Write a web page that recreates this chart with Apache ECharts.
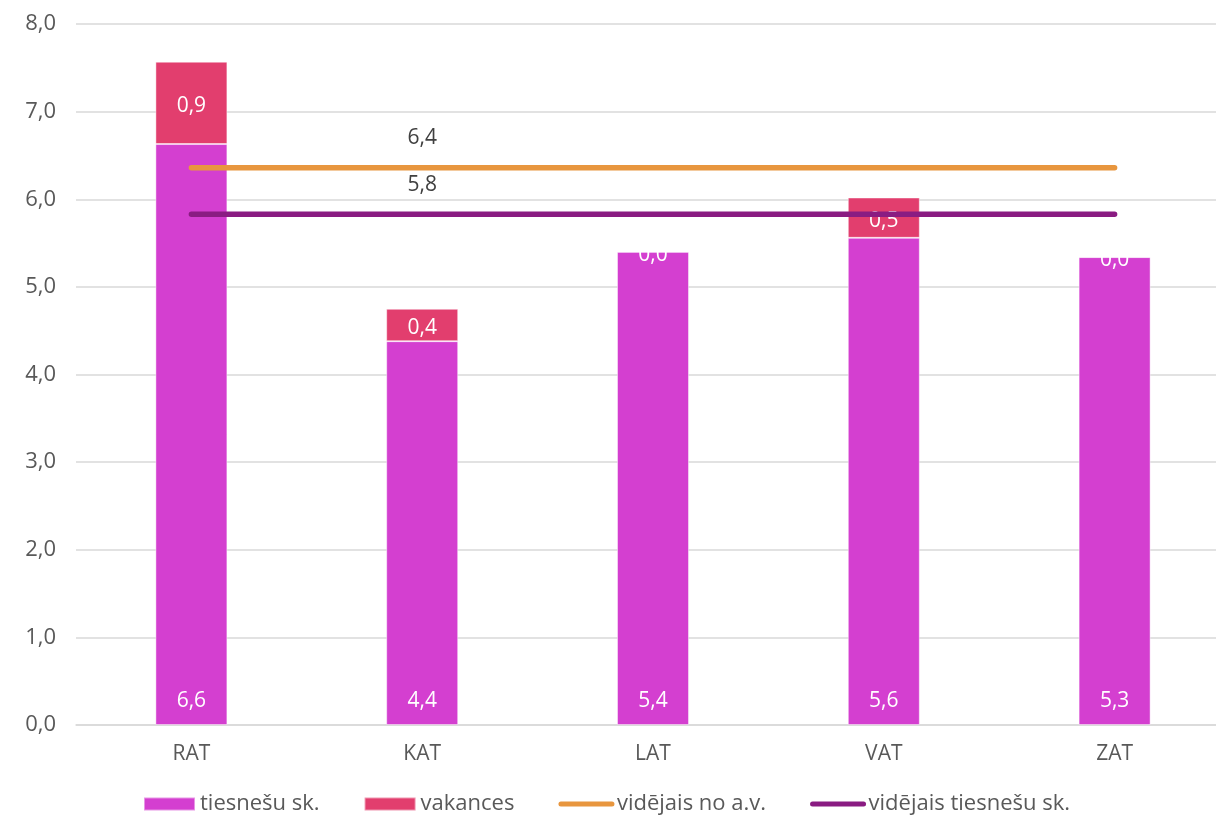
<!DOCTYPE html>
<html>
<head>
<meta charset="utf-8">
<script src="https://cdn.jsdelivr.net/npm/echarts@6/dist/echarts.min.js"></script>
<style>html,body{margin:0;padding:0;background:#fff;overflow:hidden;width:1216px;height:822px}#c{width:1230px;height:822px}</style>
</head>
<body>
<div id="c"></div>
<script>
var categories = ['RAT', 'KAT', 'LAT', 'VAT', 'ZAT'];
var judges = [6.63, 4.38, 5.40, 5.56, 5.34];
var vacancies = [0.94, 0.37, 0.0, 0.46, 0.0];
var avgPerDistrict = [6.36, 6.36, 6.36, 6.36, 6.36];
var avgJudges = [5.83, 5.83, 5.83, 5.83, 5.83];
var yTicks = [0, 1, 2, 3, 4, 5, 6, 7, 8];
var lineLabelIndex = 1;

var FONT = '"Open Sans", "Noto Sans", sans-serif';
function fmt(v) { return Number(v).toFixed(1).replace('.', ','); }

function lineLabelMark(values) {
  return {
    symbol: 'circle',
    symbolSize: 0,
    silent: true,
    label: { show: true, position: 'top', distance: 19, color: '#404040', fontSize: 21, fontFamily: FONT, formatter: function (p) { return fmt(p.value); } },
    data: [{ coord: [lineLabelIndex, values[lineLabelIndex]], value: values[lineLabelIndex] }]
  };
}

var chart = echarts.init(document.getElementById('c'));
chart.setOption({
  animation: false,
  textStyle: { fontFamily: FONT },
  grid: { left: 76, top: 24, right: 0, bottom: 97, containLabel: false },
  legend: {
    bottom: 2,
    left: 138,
    itemGap: 44,
    itemWidth: 51,
    itemHeight: 13,
    textStyle: { fontSize: 22, color: '#595959', fontFamily: FONT },
    data: [
      { name: 'tiesnešu sk.', icon: 'rect' },
      { name: 'vakances', icon: 'rect' },
      { name: 'vidējais no a.v.', itemStyle: { opacity: 0 }, lineStyle: { width: 5, cap: 'round' } },
      { name: 'vidējais tiesnešu sk.', itemStyle: { opacity: 0 }, lineStyle: { width: 5, cap: 'round' } }
    ]
  },
  xAxis: {
    type: 'category',
    data: categories,
    axisLine: { show: true, lineStyle: { color: '#D9D9D9', width: 1.5 } },
    axisTick: { show: false },
    axisLabel: { color: '#595959', fontSize: 21, margin: 19, fontFamily: FONT }
  },
  yAxis: {
    type: 'value',
    min: yTicks[0],
    max: yTicks[yTicks.length - 1],
    interval: 1,
    axisLine: { show: false },
    axisTick: { show: false },
    splitLine: { lineStyle: { color: '#D9D9D9', width: 1.5 } },
    axisLabel: { color: '#595959', fontSize: 22, margin: 20, formatter: fmt, fontFamily: FONT }
  },
  series: [
    {
      name: 'tiesnešu sk.',
      type: 'bar',
      stack: 'a',
      data: judges,
      barWidth: 72,
      itemStyle: { color: '#D43FD0', borderColor: 'rgba(255,255,255,0.45)', borderWidth: 1 },
      label: { show: true, position: 'insideBottom', distance: 13, color: '#fff', fontSize: 21, formatter: function (p) { return fmt(p.value); } }
    },
    {
      name: 'vakances',
      type: 'bar',
      stack: 'a',
      data: vacancies,
      barWidth: 72,
      itemStyle: { color: '#E23E6E', borderColor: 'rgba(255,255,255,0.45)', borderWidth: 1 },
      label: { show: true, position: 'inside', offset: [0, 3], color: '#fff', fontSize: 21, formatter: function (p) { return fmt(p.value); } }
    },
    {
      name: 'vidējais no a.v.',
      type: 'line',
      data: avgPerDistrict,
      symbol: 'none',
      z: 5,
      lineStyle: { color: '#E8963E', width: 5.5, cap: 'round' },
      itemStyle: { color: '#E8963E' },
      markPoint: lineLabelMark(avgPerDistrict)
    },
    {
      name: 'vidējais tiesnešu sk.',
      type: 'line',
      data: avgJudges,
      symbol: 'none',
      z: 5,
      lineStyle: { color: '#8A1C82', width: 5.5, cap: 'round' },
      itemStyle: { color: '#8A1C82' },
      markPoint: lineLabelMark(avgJudges)
    }
  ]
});
</script>
</body>
</html>
